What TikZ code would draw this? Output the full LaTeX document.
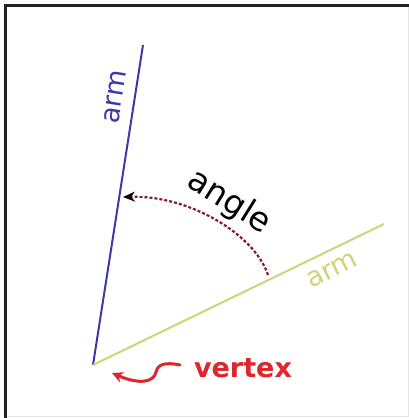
\documentclass[tikz,border=0pt]{standalone}
\usepackage{fontspec}
\setmainfont{DejaVu Sans}
\usetikzlibrary{arrows.meta}
\definecolor{armblue}{RGB}{58,58,168}
\definecolor{armgreen}{RGB}{204,214,120}
\definecolor{arcred}{RGB}{130,28,52}
\definecolor{vred}{RGB}{222,38,44}
\definecolor{framegray}{RGB}{34,34,34}
\tikzset{
  framestyle/.style={draw=framegray, line width=3pt},
  faintframe/.style={draw=black!10, line width=1pt},
  bluearm/.style={draw=armblue, line width=2pt},
  greenarm/.style={draw=armgreen, line width=2pt},
  arcstyle/.style={draw=arcred, line width=2.2pt, dash pattern=on 3pt off 2pt,
    -{Stealth[black, length=12pt, width=10pt]}},
  vertexarrow/.style={draw=vred, line width=3pt, line cap=round,
    -{Stealth[vred, length=11pt, width=11pt]}},
  lbl/.style={inner sep=0pt, font=\fontsize{27}{30}\selectfont},
}
\begin{document}
\begin{tikzpicture}[x=1pt,y=-1pt]
\useasboundingbox (0,0) rectangle (409,418);
\fill[white] (0,0) rectangle (409,418);
% frame
\coordinate (ftl) at (5.5,5.5);
\coordinate (ftr) at (409,5.5);
\coordinate (fbl) at (5.5,418);
\coordinate (fbr) at (408,416);
\draw[faintframe] (408,5.5) -- (fbr) -- (5.5,416);
\draw[framestyle] (ftr) -- (ftl) -- (fbl);
% vertex and arms
\coordinate (vertex) at (93,365);
\coordinate (bluetip) at (143,45);
\coordinate (greentip) at (384,224);
\draw[bluearm] (vertex) -- (bluetip);
\draw[greenarm] (vertex) -- (greentip);
% arm labels
\node[lbl, text=armblue, rotate=81] (armblue) at (115,97) {arm};
\node[lbl, text=armgreen, rotate=26] (armgreen) at (332,270) {arm};
% angle arc
\coordinate (arcstart) at (268,275);
\coordinate (arcend) at (123,197);
\draw[arcstyle] (arcstart) .. controls (255,235) and (190,195) .. (arcend);
\node[lbl, font=\fontsize{33}{36}\selectfont, rotate=-32] (anglelbl) at (229,202) {angle};
% vertex label and squiggle
\node[lbl, text=vred, font=\fontsize{27}{30}\selectfont\bfseries] (vertexlbl) at (243,368) {vertex};
\coordinate (sqstart) at (180,365);
\coordinate (sqend) at (112,373);
\draw[vertexarrow] (sqstart) .. controls (165,362) and (158,364) .. (156,372)
   .. controls (154,382) and (140,385) .. (sqend);
\end{tikzpicture}
\end{document}
